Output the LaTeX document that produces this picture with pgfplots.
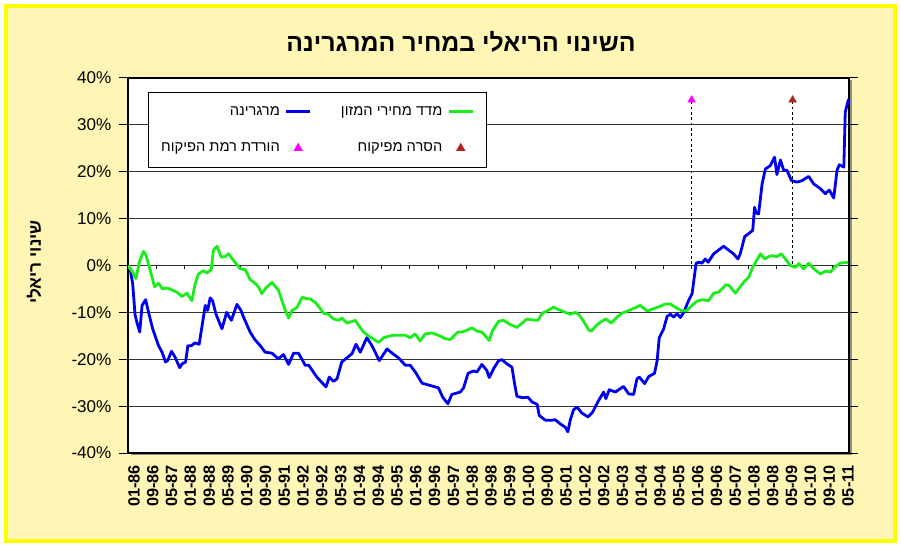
\documentclass[border=0pt]{standalone}
\usepackage{fontspec}
\setmainfont{Liberation Sans}
\newfontfamily\hebfont[Script=Hebrew]{Liberation Sans}
\usepackage{pgfplots}
\pgfplotsset{compat=1.18}
\TeXXeTstate=1
\newcommand{\heb}[1]{{\hebfont\beginR #1\endR}}
\definecolor{bgyel}{HTML}{FFF6B6}
\definecolor{frameyel}{HTML}{FFFF00}
\definecolor{blueline}{HTML}{0000F0}
\definecolor{greenline}{HTML}{1AEE1A}
\definecolor{darkred}{HTML}{B22222}
\definecolor{mag}{HTML}{FF00FF}

\pgfplotstableread{
m v
0 0
1 -1
2 -3.9
3 -10.5
4 -12.5
5 -14.2
6 -8.5
7.5 -7.3
9 -10.5
10.5 -13.5
13 -17.1
14.5 -18.5
16 -20.6
17 -20.2
18.5 -18.3
20 -19.5
22 -21.8
23 -21
24.5 -20.6
25.5 -17.1
27 -17.1
28.5 -16.5
30.3 -16.8
31.5 -13
32.9 -8.5
33.9 -9.6
35 -6.9
36 -7.5
37.4 -10.3
40 -13.5
42 -10
44 -11.7
46.4 -8.3
48 -9.5
49.2 -11
52 -14.2
54 -15.8
56.3 -17.1
58.4 -18.5
61.3 -18.7
64 -19.9
66.2 -19
68.4 -21.1
70.5 -18.7
72.6 -18.7
75.5 -21.3
77 -21.3
80.4 -23.8
84.3 -25.9
85.7 -23.8
87.5 -24.7
89 -24.2
91 -20.6
93.2 -19.7
95.4 -18.8
97.1 -16.8
98.9 -18.5
101.7 -15.4
103.9 -17.1
107 -20.3
110.3 -17.8
112.7 -18.8
115.2 -19.7
118.1 -21.3
120.2 -21.3
122.3 -22.7
125.2 -25.1
128.7 -25.6
132.2 -26.1
134 -28.1
136.2 -29.5
137.9 -27.5
141.5 -27
142.9 -26.1
144.8 -23
147.1 -22.5
148.6 -22.7
150.7 -21.1
152.8 -22.4
153.8 -23.9
155.7 -22
157.8 -20.3
159.2 -20.1
161.4 -21
163.5 -21.7
164.6 -25.2
165.6 -27.9
167.8 -28.2
170.3 -28.1
172 -29.1
174.2 -29.6
175.1 -32
177.7 -33
180.5 -33
181.9 -32.9
184.1 -33.8
186.2 -34.5
187.3 -35.5
188.3 -33
189.7 -30.8
191.2 -30.2
193.3 -31.5
195.9 -32.3
197.8 -31.3
200.4 -28.8
202.5 -27
203.5 -28.4
204.9 -26.5
207.5 -27
211 -25.8
213.2 -27.4
215.3 -27.5
216.7 -24.2
217.7 -23.8
220 -25.2
221.7 -23.7
224.2 -23
225.3 -20.3
226.2 -15.4
228.1 -13.5
229.5 -10.9
230.9 -10.4
232.3 -11
233.8 -10.3
235.2 -11.1
236.6 -10
238.7 -7.5
240.2 -6
241.9 0.5
243 0.7
244.4 0.5
245.8 1.4
247 0.7
249.4 2.5
251.5 3.3
253.6 4.1
255.7 3.3
257.8 2.5
259.7 1.4
260.7 2.5
262.6 6.2
264.3 6.8
266 7.5
266.8 12.4
267.4 11.2
268.5 11
270 17.4
271.4 20.6
273.5 21.3
275.3 23.1
276.3 19.4
277.8 22.5
279.2 20.3
280.6 20.3
282.5 18.1
284.9 17.8
287 18.1
289.8 19
292 17.4
294.8 16.4
296.9 15.3
298.6 16.1
300.5 14.4
301.9 20.3
302.9 21.5
304.8 21
305.4 32.7
306.8 35.5
}\margarine

\pgfplotstableread{
m v
0 0
1.9 -1.4
3.4 -2.8
4.8 0.7
6.6 3
7.6 2.3
9.5 -1.1
11.3 -4.5
13 -3.8
14.7 -5
16.6 -4.8
18.7 -5.2
20.8 -5.7
23 -6.6
25.1 -5.9
27.2 -7.5
28.6 -3.9
30 -1.8
32.2 -1.1
33.6 -1.6
35.4 -0.9
36.4 3.3
37.9 4.1
39.7 1.8
41.4 1.9
42.8 2.5
44.9 1.1
47.8 -0.7
49.9 -0.9
52 -3
54.2 -3.8
55.6 -4.6
57 -6
58.7 -4.8
61.3 -3.6
64.1 -5.3
66.7 -9.2
68.4 -11.2
69.8 -9.6
71.9 -9
74.1 -6.8
76.2 -7.1
77.6 -7.1
80.4 -8.2
83.3 -10.2
85.4 -10.4
87.5 -11.4
89.7 -11.7
91.1 -11.2
93.2 -12.3
96.8 -11.7
98.2 -12.8
100.3 -14.2
103.2 -15.3
106.7 -16.4
108.9 -15.4
111 -15.1
112.7 -14.9
115.2 -14.9
118.1 -14.9
120.2 -15.4
122.3 -14.6
124.4 -16.1
126.5 -14.6
129.4 -14.4
132.2 -14.9
135.1 -15.6
137.2 -15.8
138.6 -15.1
140.5 -14.2
142.2 -14.2
143.9 -13.9
146.5 -13.3
148.6 -14
150.7 -14.2
152.8 -15.4
153.8 -16
155.2 -13.9
157.8 -11.9
159.9 -11.7
162.8 -12.6
165.6 -13.2
167.8 -12.3
169.9 -11.4
172 -11.6
174.6 -11.7
176.3 -10.2
178.4 -9.7
181.2 -8.9
183.3 -9.4
186.2 -10
188.3 -10.4
190.5 -10
191.9 -10.4
194 -11.9
196.1 -13.7
197.3 -14
199 -13
201.1 -12.1
203.5 -11.4
205.8 -12.3
208.2 -11
210.3 -10.2
213.2 -9.6
216 -9
218.1 -8.5
221 -9.7
223.8 -9.2
226.6 -8.7
228.8 -8.2
230.9 -8.2
233 -8.9
235.9 -9.7
238 -9.6
240.2 -8.5
242.3 -7.6
244.4 -7.3
247.2 -7.5
249.4 -5.9
251.5 -5.7
252.9 -5
254.6 -4.1
256 -4.3
258.6 -5.9
260.3 -4.8
262.1 -3.6
264.3 -2.5
266 -0.4
267.8 1.2
269.3 2.5
271.1 1.4
272.8 1.9
274.2 2.1
276.3 1.9
278.2 2.5
279.9 1.4
282 0
284.2 -0.4
285.6 0.4
287.7 -0.7
289.8 0.5
292 -0.7
294.8 -1.8
296.9 -1.2
299.1 -1.4
301.2 -0.2
303.3 0.5
306.7 0.7
}\foodindex

\begin{document}
\begin{tikzpicture}[x=0.75pt,y=0.75pt]
\fill[white] (0,0) rectangle (901,547);
\fill[bgyel] (6,6) rectangle (895,541);
\draw[frameyel, line width=3pt] (6,6) rectangle (895,541);
\fill[black!45] (130.5,91.5) rectangle (851.5,466.5);
\node[font=\bfseries\fontsize{18.6}{21}\selectfont] at (461,505) {\heb{השינוי הריאלי במחיר המרגרינה}};
\node[rotate=90, font=\bfseries\fontsize{13}{15}\selectfont] at (34,285) {\heb{שינוי ריאלי}};
\begin{axis}[
  at={(96pt,70.5pt)}, anchor=south west,
  scale only axis, width=540.75pt, height=281.25pt,
  xmin=0, xmax=307, ymin=-40, ymax=40,
  axis background/.style={fill=white},
  axis line style={black, line width=1.2pt},
  ytick={-40,-30,...,40},
  yticklabels={-40\%,-30\%,-20\%,-10\%,0\%,10\%,20\%,30\%,40\%},
  yticklabel style={font=\fontsize{12.8}{14}\selectfont, xshift=-2.2pt},
  ymajorgrids,
  grid style={black!80, line width=0.75pt},
  tick align=outside,
  major tick length=6.75pt,
  ytick style={black, line width=0.75pt},
  xtick={0,8,...,304},
  xticklabels={01-86,09-86,05-87,01-88,09-88,05-89,01-90,09-90,05-91,01-92,09-92,05-93,01-94,09-94,05-95,01-96,09-96,05-97,01-98,09-98,05-99,01-00,09-00,05-01,01-02,09-02,05-03,01-04,09-04,05-05,01-06,09-06,05-07,01-08,09-08,05-09,01-10,09-10,05-11},
  xtick style={draw=none},
  xticklabel style={rotate=90, anchor=east, yshift=-4.5pt, xshift=1pt, font=\bfseries\fontsize{12.2}{13}\selectfont},
  legend columns=2,
  legend plot pos=right,
  legend cell align=right,
  legend image code/.code={\draw[#1, mark repeat=2, mark phase=2] plot coordinates {(0pt,0pt) (9pt,0pt) (18pt,0pt)};},
  legend style={at={(0.0277,0.9627)}, anchor=north west, draw=black, line width=0.75pt, fill=white,
    font=\fontsize{11}{12}\selectfont, inner xsep=9.5pt, inner ysep=9pt, row sep=17pt,
    nodes={inner sep=0pt, text height=8pt, text depth=2.5pt},
    /tikz/every odd column/.append style={column sep=3.75pt},
    /tikz/every even column/.append style={column sep=22pt}},
]
\pgfplotsinvokeforeach{12,24,...,300}{\draw[black, line width=0.75pt] (axis cs:#1,0) -- ++(0pt,-2.5pt);}
\addplot[blueline, line width=2.1pt, line join=round] table[x=m,y=v] {\margarine};
\addlegendentry{\heb{מרגרינה}}
\addplot[greenline, line width=2.1pt, line join=round] table[x=m,y=v] {\foodindex};
\addlegendentry{\heb{מדד מחירי המזון}}
\addplot[black, line width=0.75pt, dash pattern=on 2pt off 2pt, forget plot] coordinates {(240,0.3) (240,35)};
\addplot[black, line width=0.75pt, dash pattern=on 2pt off 2pt, forget plot] coordinates {(283,0.3) (283,35)};
\addplot[only marks, mark=triangle*, mark size=3.3pt, color=mag] coordinates {(240,35.3)};
\addlegendentry{\heb{הורדת רמת הפיקוח}}
\addplot[only marks, mark=triangle*, mark size=3.3pt, color=darkred] coordinates {(283,35.3)};
\addlegendentry{\heb{הסרה מפיקוח}}
\end{axis}
\end{tikzpicture}
\end{document}
